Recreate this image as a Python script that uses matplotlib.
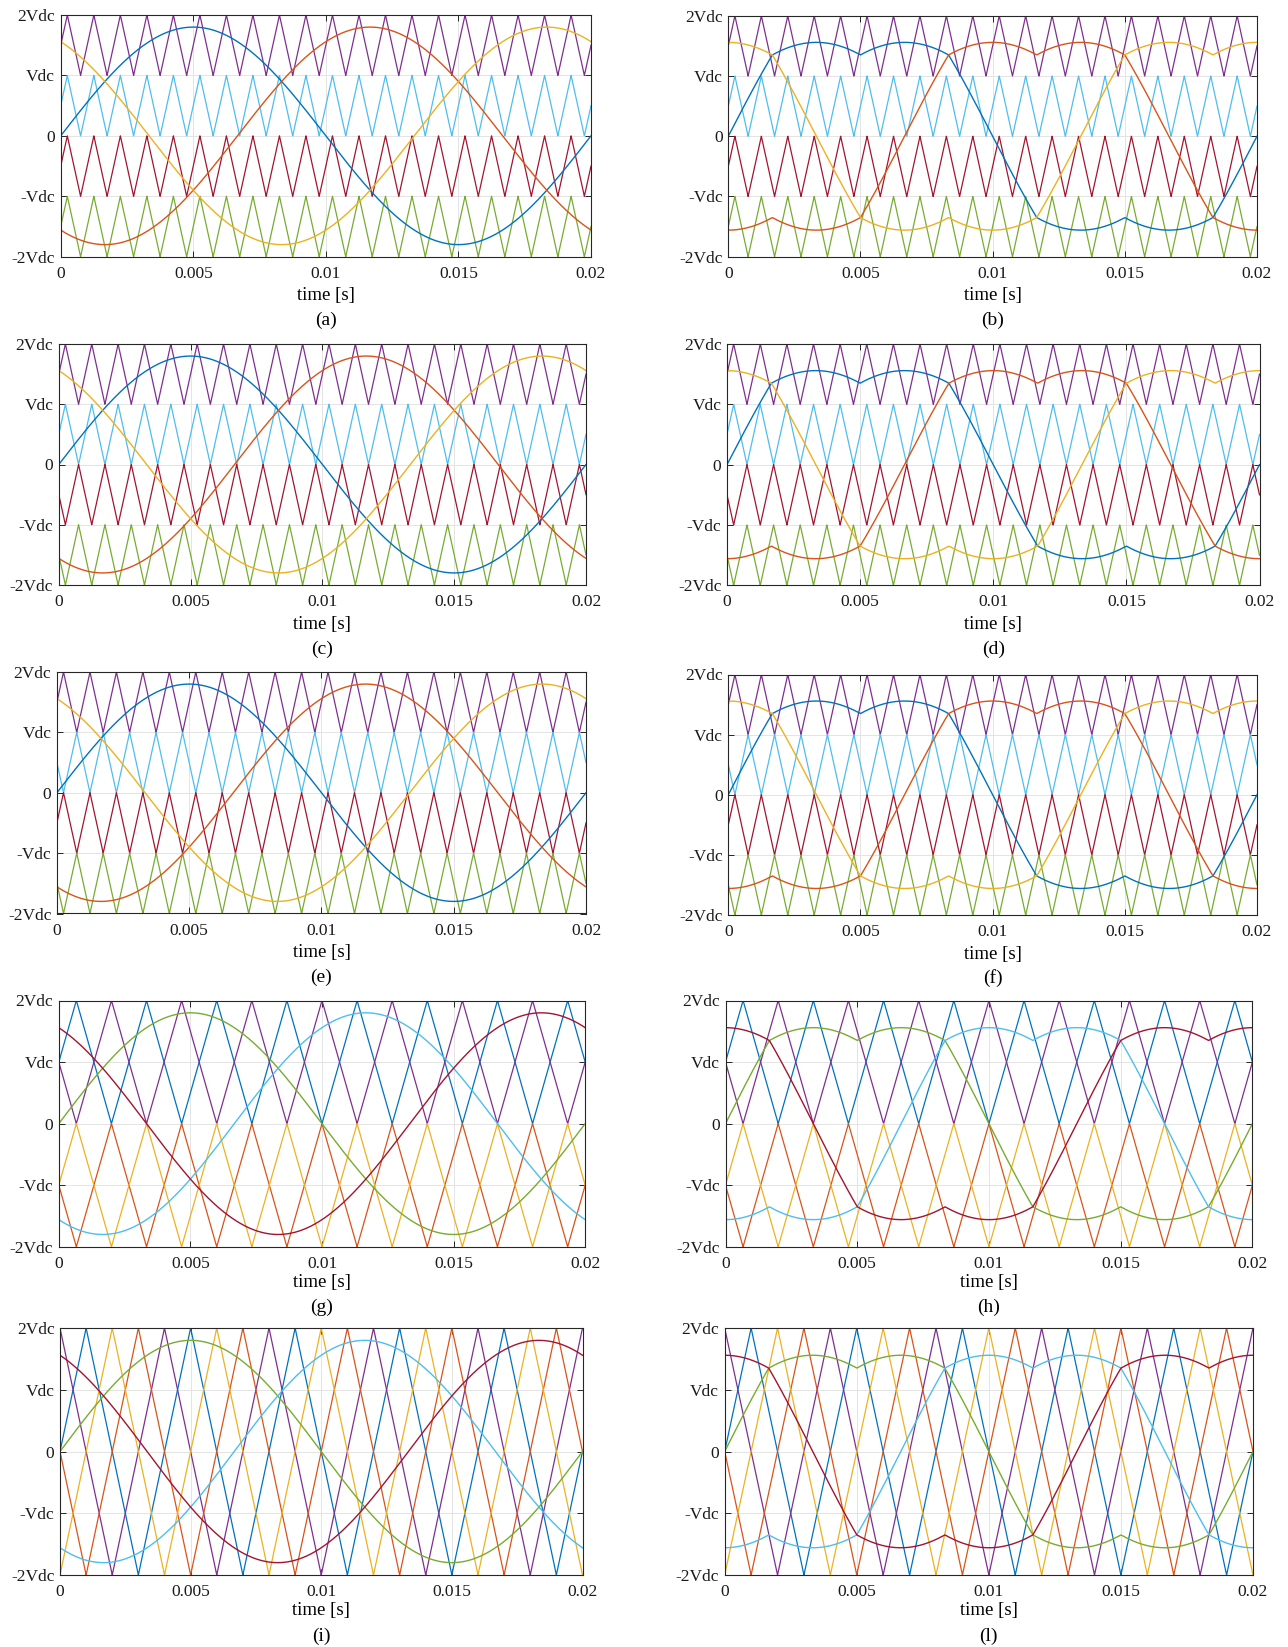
import numpy as np
import matplotlib.pyplot as plt

plt.rcParams['font.family'] = ['Liberation Serif', 'DejaVu Serif']
plt.rcParams['font.size'] = 12.5

# ---------------- reference signals ----------------
t_end = 0.02
f_ref = 50                      # Hz
ref_amp = 1.8                   # in Vdc
ref_phase_deg = [0, -120, 120]  # phases a, b, c

# ---------------- carrier sets ----------------
# level-shifted carriers (1 kHz)
ls_freq = 1000
ls_low = [1, 0, -1, -2]
ls_high = [2, 1, 0, -1]
pd_phase = [0, 0, 0, 0]
pod_phase = [0, 0, 180, 180]
apod_phase = [0, 180, 0, 180]

# two-band carriers (375 Hz)
hy_freq = 375
hy_low = [0, 0, -2, -2]
hy_high = [2, 2, 0, 0]
hy_phase = [0, 180, 180, 0]

# phase-shifted carriers (250 Hz)
ps_freq = 250
ps_low = [-2, -2, -2, -2]
ps_high = [2, 2, 2, 2]
ps_phase = [0, 90, 180, 270]

# MATLAB default colour order
c_blue, c_orange, c_yellow = '#0072BD', '#D95319', '#EDB120'
c_purple, c_green, c_lblue, c_dred = '#7E2F8E', '#77AC30', '#4DBEEE', '#A2142F'

ls_colors = [c_purple, c_lblue, c_dred, c_green]
ls_ref_colors = [c_blue, c_orange, c_yellow]
hy_colors = [c_blue, c_purple, c_orange, c_yellow]
hy_ref_colors = [c_green, c_lblue, c_dred]

yticks = [-2, -1, 0, 1, 2]
ytick_labels = ['-2Vdc', '-Vdc', '0', 'Vdc', '2Vdc']
xticks = [0, 0.005, 0.01, 0.015, 0.02]
xtick_labels = ['0', '0.005', '0.01', '0.015', '0.02']

t = np.linspace(0, t_end, 16001)


def carrier(f, lo, hi, ph):
    frac = (f * t + ph / 360.0) % 1.0
    tri = 4 * np.abs(((frac - 0.25) % 1.0) - 0.5) - 1
    return (lo + hi) / 2 + (hi - lo) / 2 * tri


def references(minmax):
    v = np.array([ref_amp * np.sin(2 * np.pi * f_ref * t + np.deg2rad(p))
                  for p in ref_phase_deg])
    if minmax:
        v = v - (v.max(axis=0) + v.min(axis=0)) / 2
    return v


# panel: (caption, freq, lows, highs, phases, carrier colours, ref colours,
#         min-max injection, box in pixels: left, top, right, bottom, label offsets)
panels = [
    ('(a)', ls_freq, ls_low, ls_high, pd_phase, ls_colors, ls_ref_colors, False,
     (60.7, 15.0, 591.0, 256.7), (39.0, 63.5)),
    ('(b)', ls_freq, ls_low, ls_high, pd_phase, ls_colors, ls_ref_colors, True,
     (728.3, 15.8, 1257.0, 256.7), (39.0, 63.5)),
    ('(c)', ls_freq, ls_low, ls_high, pod_phase, ls_colors, ls_ref_colors, False,
     (58.8, 344.0, 586.0, 585.0), (39.5, 64.0)),
    ('(d)', ls_freq, ls_low, ls_high, pod_phase, ls_colors, ls_ref_colors, True,
     (727.0, 344.0, 1259.5, 585.3), (39.5, 64.0)),
    ('(e)', ls_freq, ls_low, ls_high, apod_phase, ls_colors, ls_ref_colors, False,
     (56.9, 672.0, 586.0, 913.5), (39.0, 63.5)),
    ('(f)', ls_freq, ls_low, ls_high, apod_phase, ls_colors, ls_ref_colors, True,
     (728.3, 674.5, 1257.0, 915.0), (39.0, 63.5)),
    ('(g)', hy_freq, hy_low, hy_high, hy_phase, hy_colors, hy_ref_colors, False,
     (58.8, 1000.5, 585.2, 1246.8), (35.5, 61.0)),
    ('(h)', hy_freq, hy_low, hy_high, hy_phase, hy_colors, hy_ref_colors, True,
     (725.5, 1000.5, 1252.4, 1246.8), (35.5, 61.0)),
    ('(i)', ps_freq, ps_low, ps_high, ps_phase, hy_colors, hy_ref_colors, False,
     (60.0, 1328.0, 582.5, 1575.0), (35.5, 61.0)),
    ('(l)', ps_freq, ps_low, ps_high, ps_phase, hy_colors, hy_ref_colors, True,
     (724.7, 1328.0, 1253.0, 1575.0), (35.5, 61.0)),
]

W, H = 1288, 1647
fig = plt.figure(figsize=(W / 100, H / 100), dpi=100)
fig.patch.set_facecolor('white')

for cap, f, lows, highs, phases, ccols, rcols, mm, box, offs in panels:
    left, top, right, bottom = box
    ax = fig.add_axes([left / W, 1 - bottom / H, (right - left) / W, (bottom - top) / H])

    for lo, hi, ph, col in zip(lows, highs, phases, ccols):
        ax.plot(t, carrier(f, lo, hi, ph), color=col, lw=0.9)
    for v, col in zip(references(mm), rcols):
        ax.plot(t, v, color=col, lw=1.0)

    ax.set_xlim(0, t_end)
    ax.set_ylim(-2, 2)
    ax.set_xticks(xticks)
    ax.set_xticklabels(xtick_labels)
    ax.set_yticks(yticks)
    ax.set_yticklabels(ytick_labels)
    ax.grid(True, color='#e4e4e4', lw=0.7)
    ax.set_axisbelow(True)
    ax.tick_params(direction='in', top=True, right=True, length=4, width=0.7,
                   color='#262626', labelcolor='#1a1a1a')
    ax.tick_params(axis='x', pad=6.5)
    ax.tick_params(axis='y', pad=4)
    for sp in ax.spines.values():
        sp.set_color('#262626')
        sp.set_linewidth(0.8)

    cx = (left + right) / 2 / W
    fig.text(cx, 1 - (bottom + offs[0]) / H, 'time [s]', ha='center', va='center',
             fontsize=13.5)
    fig.text(cx, 1 - (bottom + offs[1]) / H, cap, ha='center', va='center',
             fontsize=14)

fig.savefig('out.png', dpi=100)
